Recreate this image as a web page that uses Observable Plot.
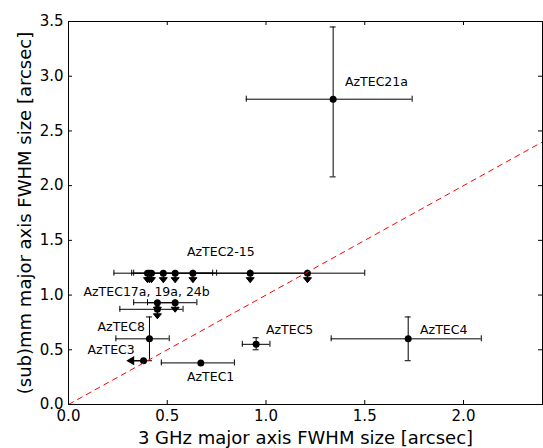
<!DOCTYPE html>
<html>
<head>
<meta charset="utf-8">
<script src="https://cdn.jsdelivr.net/npm/d3@7"></script>
<script src="https://cdn.jsdelivr.net/npm/@observablehq/plot@0.6"></script>
<style>
  html, body { margin: 0; padding: 0; background: #fff; }
  #chart svg { display: block; }
</style>
</head>
<body>
<div id="chart"></div>
<script>
// ---- Detected sources (both axes measured) ----
const detNames = ["AzTEC1", "AzTEC3", "AzTEC4", "AzTEC5", "AzTEC8", "AzTEC21a"];
const detX     = [0.67, 0.38, 1.72, 0.95, 0.41, 1.34];
const detXlo   = [0.47, null, 1.33, 0.88, 0.24, 0.90];
const detXhi   = [0.84, null, 2.09, 1.02, 0.51, 1.74];
const detY     = [0.38, 0.40, 0.60, 0.55, 0.60, 2.79];
const detYlo   = [null, null, 0.40, 0.50, 0.40, 2.08];
const detYhi   = [null, null, 0.80, 0.61, 0.80, 3.45];
const detXUpperLimit = [false, true, false, false, false, false];

// ---- (sub)mm upper limits (AzTEC2-15 row and AzTEC17a, 19a, 24b) ----
const ulX   = [0.40, 0.41, 0.42, 0.48, 0.54, 0.63, 0.92, 1.21, 0.45, 0.54, 0.45];
const ulY   = [1.20, 1.20, 1.20, 1.20, 1.20, 1.20, 1.20, 1.20, 0.93, 0.93, 0.87];
const ulXlo = [null, null, null, 0.23, 0.33, 0.32, 0.63, 0.92, 0.33, 0.40, 0.26];
const ulXhi = [null, null, null, 0.73, 0.75, 0.92, 1.21, 1.50, 0.54, 0.65, 0.58];

// ---- Annotations ----
const labelText = ["AzTEC21a", "AzTEC2-15", "AzTEC17a, 19a, 24b", "AzTEC8", "AzTEC3", "AzTEC1", "AzTEC5", "AzTEC4"];
const labelX    = [1.40, 0.60, 0.076, 0.147, 0.096, 0.60, 1.00, 1.78];
const labelY    = [2.95, 1.39, 1.03, 0.71, 0.50, 0.25, 0.68, 0.685];

// ---- Axes ----
const xDomain = [0, 2.4];
const yDomain = [0, 3.5];
const xTicks = [0, 0.5, 1.0, 1.5, 2.0];
const yTicks = [0, 0.5, 1.0, 1.5, 2.0, 2.5, 3.0, 3.5];
const xLabel = "3 GHz major axis FWHM size [arcsec]";
const yLabel = "(sub)mm major axis FWHM size [arcsec]";
const oneToOne = xDomain; // y = x line

// build tables
const det = detNames.map((name, i) => ({
  name, x: detX[i], xlo: detXlo[i], xhi: detXhi[i],
  y: detY[i], ylo: detYlo[i], yhi: detYhi[i], xul: detXUpperLimit[i]
}));
const ul = ulX.map((x, i) => ({x, y: ulY[i], xlo: ulXlo[i], xhi: ulXhi[i]}));
const labels = labelText.map((t, i) => ({t, x: labelX[i], y: labelY[i]}));
const allX = det.concat(ul);
const xErr = allX.filter(d => d.xlo != null);
const yErr = det.filter(d => d.ylo != null);

const W = 543, H = 448, mL = 68, mR = 1, mT = 21, mB = 44;
const innerW = W - mL - mR, innerH = H - mT - mB;
const tickLen = 4, cap = 3;

const downArrow = {
  draw(ctx) {
    ctx.moveTo(0, 0); ctx.lineTo(0, 9);
    ctx.moveTo(-4, 4.5); ctx.lineTo(4, 4.5); ctx.lineTo(0, 9.5); ctx.closePath();
  }
};
const leftArrow = {
  draw(ctx) {
    ctx.moveTo(0, 0); ctx.lineTo(-15, 0);
    ctx.moveTo(-10, -3.5); ctx.lineTo(-10, 3.5); ctx.lineTo(-16, 0); ctx.closePath();
  }
};

const chart = Plot.plot({
  width: W, height: H,
  marginLeft: mL, marginRight: mR, marginTop: mT, marginBottom: mB,
  style: {fontFamily: "DejaVu Sans", fontSize: "15px", color: "black", background: "white"},
  x: {domain: xDomain},
  y: {domain: yDomain},
  marks: [
    // horizontal error bars + caps
    Plot.ruleY(xErr, {x1: "xlo", x2: "xhi", y: "y", stroke: "black", strokeWidth: 1}),
    Plot.ruleX(xErr, {x: "xlo", y1: "y", y2: "y", insetTop: cap, insetBottom: cap, stroke: "black"}),
    Plot.ruleX(xErr, {x: "xhi", y1: "y", y2: "y", insetTop: cap, insetBottom: cap, stroke: "black"}),
    // vertical error bars + caps
    Plot.ruleX(yErr, {x: "x", y1: "ylo", y2: "yhi", stroke: "black", strokeWidth: 1}),
    Plot.ruleY(yErr, {y: "ylo", x1: "x", x2: "x", insetLeft: cap, insetRight: cap, stroke: "black"}),
    Plot.ruleY(yErr, {y: "yhi", x1: "x", x2: "x", insetLeft: cap, insetRight: cap, stroke: "black"}),
    // upper-limit arrows
    Plot.dot(ul, {x: "x", y: "y", symbol: downArrow, fill: "black", stroke: "black", strokeWidth: 1}),
    Plot.dot(det.filter(d => d.xul), {x: "x", y: "y", symbol: leftArrow, fill: "black", stroke: "black", strokeWidth: 1.3}),
    // points
    Plot.dot(allX, {x: "x", y: "y", r: 3.5, fill: "black", stroke: null}),
    // 1:1 line
    Plot.link([oneToOne], {x1: d => d[0], y1: d => d[0], x2: d => d[1], y2: d => d[1],
      stroke: "#ff0000", strokeWidth: 1, strokeDasharray: "6,4"}),
    // annotations
    Plot.text(labels, {x: "x", y: "y", text: "t", textAnchor: "start", fontSize: 12.5, fill: "black"}),
    // inward ticks on all sides
    Plot.tickX(xTicks, {x: d => d, insetTop: innerH - tickLen, stroke: "black"}),
    Plot.tickX(xTicks, {x: d => d, insetBottom: innerH - tickLen, stroke: "black"}),
    Plot.tickY(yTicks, {y: d => d, insetRight: innerW - tickLen, stroke: "black"}),
    Plot.tickY(yTicks, {y: d => d, insetLeft: innerW - tickLen, stroke: "black"}),
    Plot.frame({stroke: "black", strokeWidth: 1}),
    Plot.axisX({ticks: xTicks, tickFormat: d3.format(".1f"), tickSize: 0, tickPadding: 6, fontSize: 15, label: null}),
    Plot.axisY({ticks: yTicks, tickFormat: d3.format(".1f"), tickSize: 0, tickPadding: 5, fontSize: 15, label: null}),
    // axis titles
    Plot.text([xLabel], {text: d => d, frameAnchor: "bottom", textAnchor: "middle", lineAnchor: "middle", dy: 34, fontSize: 18, fill: "black"}),
    Plot.text([yLabel], {text: d => d, frameAnchor: "left", textAnchor: "middle", lineAnchor: "middle", dx: -43, rotate: -90, fontSize: 18, fill: "black"})
  ]
});
document.getElementById("chart").appendChild(chart);
</script>
</body>
</html>
